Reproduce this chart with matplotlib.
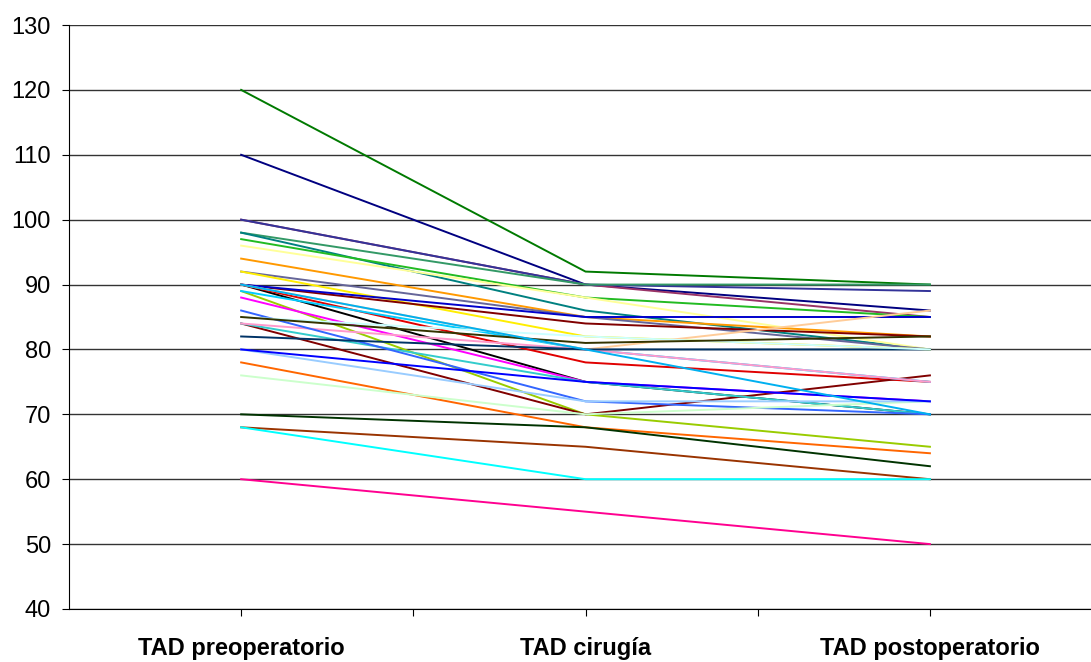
import matplotlib.pyplot as plt

etapas = ['TAD preoperatorio', 'TAD cirugía', 'TAD postoperatorio']

# tensión arterial diastólica de cada paciente en las tres mediciones
preop = [120, 110, 100, 100, 98, 98, 97, 96, 94, 92,
         92, 90, 90, 90, 90, 89, 84, 88, 89, 84,
         90, 84, 86, 82, 78, 76, 80, 70, 68, 68,
         60, 80, 85, 85, 90]
cirugia = [92, 90, 90, 90, 90, 86, 88, 88, 85, 85,
           82, 84, 85, 75, 78, 70, 70, 75, 80, 75,
           80, 80, 72, 80, 68, 70, 72, 68, 65, 60,
           55, 75, 82, 81, 80]
postop = [90, 86, 85, 89, 90, 80, 85, 80, 82, 80,
          80, 82, 85, 70, 75, 65, 76, 72, 75, 70,
          86, 75, 70, 80, 64, 72, 72, 62, 60, 60,
          50, 72, 80, 82, 70]
colores = ['#007a00', '#000080', '#993366', '#333399', '#339966',
           '#008080', '#22bb22', '#ffff99', '#ff9900', '#666699',
           '#ffee00', '#800000', '#0000cc', '#000000', '#e00000',
           '#99cc00', '#800000', '#ff00ff', '#00ccff', '#33cccc',
           '#ffcc99', '#ff99cc', '#3366ff', '#003366', '#ff6600',
           '#ccffcc', '#99ccff', '#003300', '#993300', '#00ffff',
           '#ff0090', '#0000ff', '#ccffff', '#333300', '#00b0f0']

plt.rcParams['font.family'] = ['Liberation Sans', 'DejaVu Sans']

fig = plt.figure(figsize=(10.91, 6.62), dpi=100)
ax = fig.add_axes([0.0632, 0.0801, 0.947, 0.8821])

x = range(len(etapas))
for i in range(len(preop)):
    ax.plot(x, [preop[i], cirugia[i], postop[i]], color=colores[i], lw=1.4)

ax.set_xlim(-0.5, 2.5)
ax.set_ylim(40, 130)
ax.set_yticks(range(40, 131, 10))
ax.yaxis.grid(True, color='#333333', lw=1)
ax.set_axisbelow(True)

ax.set_xticks([0, 0.5, 1, 1.5, 2])
ax.set_xticklabels([etapas[0], '', etapas[1], '', etapas[2]],
                   fontsize=17, fontweight='bold')
ax.tick_params(axis='x', length=5, pad=15, color='black')
ax.tick_params(axis='y', length=5, labelsize=17, pad=8, color='black')

for side in ['top', 'right']:
    ax.spines[side].set_visible(False)
ax.spines['left'].set_color('black')
ax.spines['bottom'].set_color('black')

fig.savefig('out.png', dpi=100)
